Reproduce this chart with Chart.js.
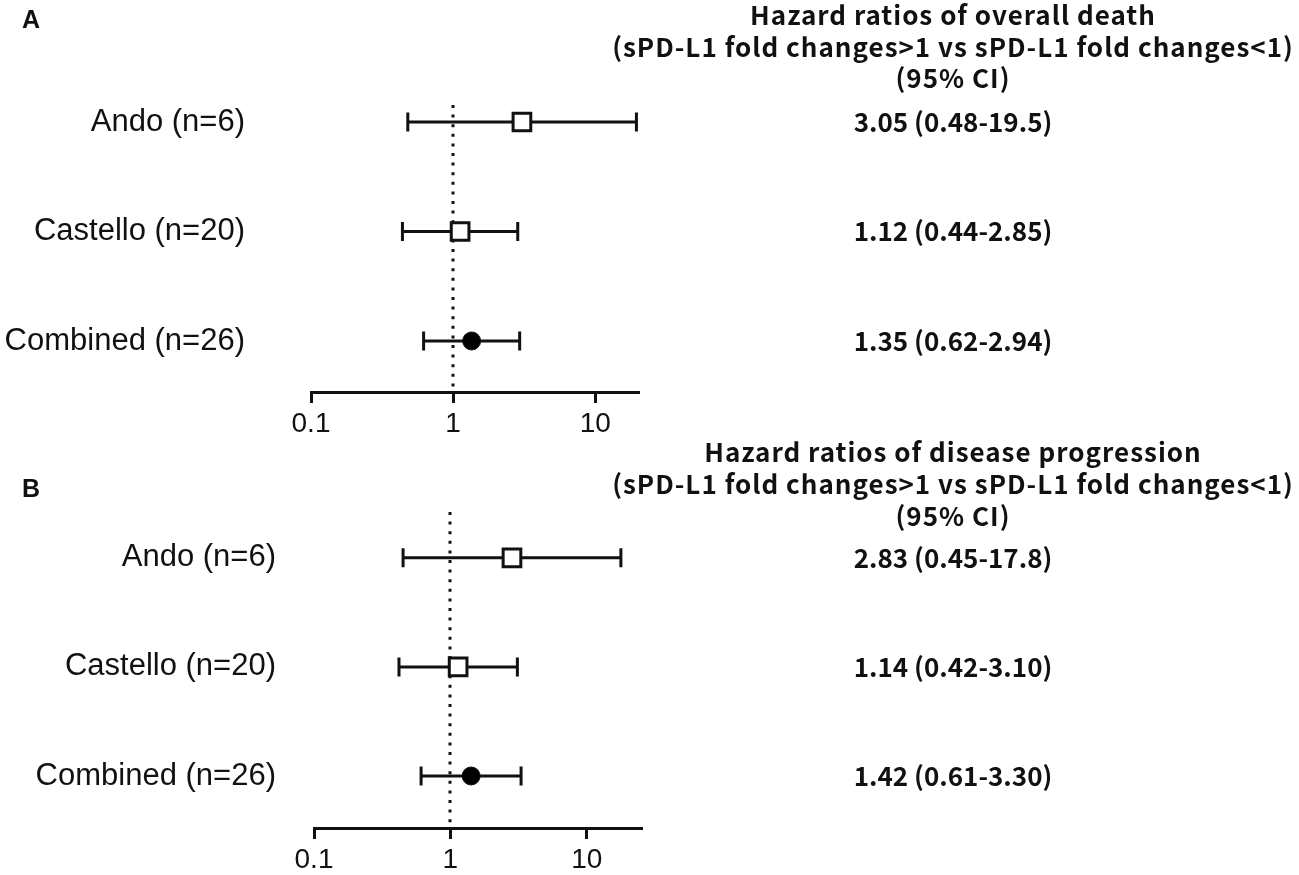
<!DOCTYPE html>
<html>
<head>
<meta charset="utf-8">
<script src="https://cdn.jsdelivr.net/npm/chart.js@4.4.1/dist/chart.umd.min.js"></script>
<style>
  html, body { margin: 0; padding: 0; background: #ffffff; }
  body { width: 1299px; height: 875px; overflow: hidden; position: relative; }
  .panel { position: absolute; left: 0; width: 1299px; }
  #pa { top: 0; height: 440px; }
  #pb { top: 430px; height: 445px; }
</style>
</head>
<body>
<div class="panel" id="pa"><canvas id="ca" width="1299" height="440"></canvas></div>
<div class="panel" id="pb"><canvas id="cb" width="1299" height="445"></canvas></div>
<script>
// ---------------- data ----------------
const studies = ['Ando (n=6)', 'Castello (n=20)', 'Combined (n=26)'];

const hrDeath   = [3.05, 1.12, 1.35];
const lowDeath  = [0.48, 0.44, 0.62];
const highDeath = [19.5, 2.85, 2.94];
const ciTextDeath = ['3.05 (0.48-19.5)', '1.12 (0.44-2.85)', '1.35 (0.62-2.94)'];

const hrProg   = [2.83, 1.14, 1.42];
const lowProg  = [0.45, 0.42, 0.61];
const highProg = [17.8, 3.10, 3.30];
const ciTextProg = ['2.83 (0.45-17.8)', '1.14 (0.42-3.10)', '1.42 (0.61-3.30)'];

const xTickValues = [0.1, 1, 10];
const referenceValue = 1;

const titleDeath = ['Hazard ratios of overall death',
                    '(sPD-L1 fold changes>1 vs sPD-L1 fold changes<1)',
                    '(95% CI)'];
const titleProg  = ['Hazard ratios of disease progression',
                    '(sPD-L1 fold changes>1 vs sPD-L1 fold changes<1)',
                    '(95% CI)'];
const panelLetters = ['A', 'B'];

// ---------------- drawing ----------------
const LABEL_FONT = "'Liberation Sans', Arial, sans-serif";
const CJK_FONT = "'Noto Sans CJK JP', 'Noto Sans', sans-serif";

const forestPlugin = {
  id: 'forest',
  beforeDatasetsDraw(chart) {
    const o = chart.options.plugins.forest;
    const ctx = chart.ctx;
    const xs = chart.scales.x, ys = chart.scales.y;
    const area = chart.chartArea;
    ctx.save();
    // dotted reference line at HR = 1
    const rx = Math.round(xs.getPixelForValue(referenceValue));
    ctx.strokeStyle = '#111';
    ctx.lineWidth = 3;
    ctx.setLineDash([3, 6.6]);
    ctx.beginPath();
    ctx.moveTo(rx, area.top);
    ctx.lineTo(rx, area.bottom);
    ctx.stroke();
    ctx.setLineDash([]);
    // confidence intervals
    ctx.lineWidth = 3;
    ctx.strokeStyle = '#111';
    const capH = 9.5;
    o.low.forEach((lo, i) => {
      const y = ys.getPixelForValue(i);
      const x1 = xs.getPixelForValue(lo);
      const x2 = xs.getPixelForValue(o.high[i]);
      ctx.beginPath();
      ctx.moveTo(x1, y); ctx.lineTo(x2, y);
      ctx.moveTo(x1, y - capH); ctx.lineTo(x1, y + capH);
      ctx.moveTo(x2, y - capH); ctx.lineTo(x2, y + capH);
      ctx.stroke();
    });
    ctx.restore();
  },
  afterDraw(chart) {
    const o = chart.options.plugins.forest;
    const ctx = chart.ctx;
    const ys = chart.scales.y;
    ctx.save();
    ctx.fillStyle = '#111';
    // panel letter
    ctx.font = "bold 25px " + LABEL_FONT;
    ctx.textAlign = 'left';
    ctx.textBaseline = 'alphabetic';
    ctx.fillText(o.letter, o.letterX, o.letterY);
    // titles
    ctx.font = "bold 26px " + CJK_FONT;
    ctx.textAlign = 'center';
    ctx.textBaseline = 'middle';
    try { ctx.letterSpacing = '1px'; } catch (e) {}
    o.title.forEach((t, i) => ctx.fillText(t, o.textX, o.titleY[i]));
    try { ctx.letterSpacing = '0px'; } catch (e) {}
    // CI texts
    o.ciText.forEach((t, i) => ctx.fillText(t, o.textX, ys.getPixelForValue(i)));
    ctx.restore();
  }
};

function makeForest(canvasId, cfg) {
  const pts = cfg.hr.map((v, i) => ({ x: v, y: i }));
  const lastIdx = cfg.hr.length - 1;
  return new Chart(document.getElementById(canvasId), {
    type: 'scatter',
    data: {
      datasets: [{
        data: pts,
        pointStyle: c => c.dataIndex === lastIdx ? 'circle' : 'rect',
        pointRadius: c => c.dataIndex === lastIdx ? 9 : 12.5,
        pointHoverRadius: c => c.dataIndex === lastIdx ? 9 : 12.5,
        backgroundColor: c => c.dataIndex === lastIdx ? '#000' : '#fff',
        borderColor: '#111',
        borderWidth: c => c.dataIndex === lastIdx ? 1 : 3,
        pointBorderWidth: c => c.dataIndex === lastIdx ? 1 : 3
      }]
    },
    options: {
      responsive: false,
      animation: false,
      events: [],
      layout: { padding: { left: 0, right: cfg.padRight, top: cfg.padTop, bottom: 0 } },
      plugins: {
        legend: { display: false },
        tooltip: { enabled: false },
        forest: {
          low: cfg.low, high: cfg.high, ciText: cfg.ciText, title: cfg.title,
          titleY: cfg.titleY, textX: 953, letter: cfg.letter, letterX: 22, letterY: cfg.letterY
        }
      },
      scales: {
        x: {
          type: 'logarithmic',
          min: 0.1, max: cfg.xMax,
          afterBuildTicks: s => { s.ticks = xTickValues.map(v => ({ value: v })); },
          afterFit: s => {
            s.height = cfg.xAxisH;
            s.paddingLeft = 0; s.paddingRight = 0; s.paddingTop = 0; s.paddingBottom = 0;
          },
          ticks: {
            callback: v => String(v),
            font: { family: LABEL_FONT, size: 28 },
            color: '#111',
            padding: 4,
            maxRotation: 0,
            autoSkip: false
          },
          grid: { drawOnChartArea: false, drawTicks: true, tickLength: 11, lineWidth: 3, color: '#111' },
          border: { display: true, width: 3, color: '#111' }
        },
        y: {
          type: 'linear',
          reverse: true,
          min: cfg.yMin, max: cfg.yMax,
          afterBuildTicks: s => { s.ticks = studies.map((_, i) => ({ value: i })); },
          afterFit: s => {
            s.width = cfg.yAxisW;
            s.paddingLeft = 0; s.paddingRight = 0; s.paddingTop = 0; s.paddingBottom = 0;
          },
          ticks: {
            callback: v => studies[v],
            font: { family: LABEL_FONT, size: 31 },
            color: '#111',
            padding: cfg.labelPad,
            autoSkip: false
          },
          grid: { display: false, drawTicks: false },
          border: { display: false }
        }
      }
    },
    plugins: [forestPlugin]
  });
}

makeForest('ca', {
  hr: hrDeath, low: lowDeath, high: highDeath, ciText: ciTextDeath, title: titleDeath,
  letter: panelLetters[0], letterY: 28,
  titleY: [15, 47, 78],
  xMax: 20, yMin: -0.155, yMax: 2.466,
  padTop: 105, padRight: 1299 - 638, yAxisW: 311, xAxisH: 440 - 392, labelPad: 66
});

const offB = 430;
makeForest('cb', {
  hr: hrProg, low: lowProg, high: highProg, ciText: ciTextProg, title: titleProg,
  letter: panelLetters[1], letterY: 497 - offB,
  titleY: [452 - offB, 484 - offB, 516 - offB],
  xMax: 25, yMin: -0.42, yMax: 2.477,
  padTop: 512 - offB, padRight: 1299 - 641, yAxisW: 314, xAxisH: 445 - (828 - offB), labelPad: 38
});
</script>
</body>
</html>
